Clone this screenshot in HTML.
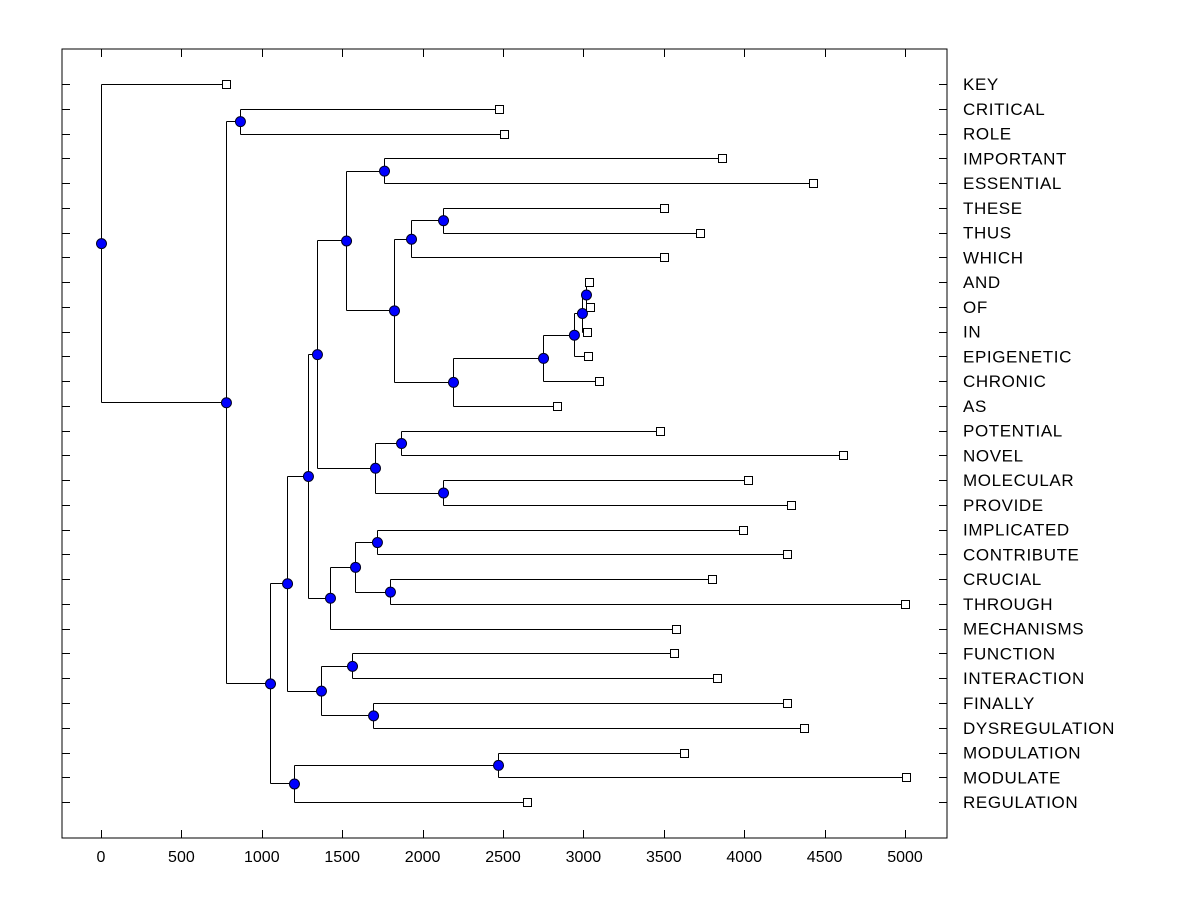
<!DOCTYPE html>
<html><head><meta charset="utf-8"><style>
body{margin:0;background:#fff}
svg text{font-family:"Liberation Sans",Arial,sans-serif;font-size:16px;fill:#000}
svg text.lab{font-size:17px;letter-spacing:0.6px}
</style></head><body>
<svg id="c" width="1200" height="900" xmlns="http://www.w3.org/2000/svg"></svg>
<script>
const leafNames=["KEY","CRITICAL","ROLE","IMPORTANT","ESSENTIAL","THESE","THUS","WHICH","AND","OF","IN","EPIGENETIC","CHRONIC","AS","POTENTIAL","NOVEL","MOLECULAR","PROVIDE","IMPLICATED","CONTRIBUTE","CRUCIAL","THROUGH","MECHANISMS","FUNCTION","INTERACTION","FINALLY","DYSREGULATION","MODULATION","MODULATE","REGULATION"];
const leafHeights=[777,2475,2506,3862,4428,3501,3725,3501,3035,3040,3020,3029,3097,2836,3476,4614,4024,4291,3993,4266,3800,5000,3576,3563,3831,4266,4372,3626,5006,2649];
const mergeLeft=[8,30,31,32,33,5,35,36,3,38,14,16,40,39,18,20,44,46,43,23,25,49,48,27,53,52,1,56,0];
const mergeRight=[9,10,11,12,13,6,7,34,4,37,15,17,41,42,19,21,45,22,47,24,26,50,51,28,29,54,2,55,57];
const mergeHeights=[3016,2991,2941,2749,2189,2127,1928,1822,1760,1524,1866,2127,1704,1343,1716,1797,1580,1424,1287,1561,1692,1368,1157,2469,1200,1051,864,777,0];
const xTicks=[0,500,1000,1500,2000,2500,3000,3500,4000,4500,5000];

const svg=document.getElementById('c');
const NS='http://www.w3.org/2000/svg';
const L=62,R=947,T=49,B=838;
const X=v=>101+v*0.1608;
const Y=i=>84+i*24.76;
function mk(tag,attrs){const e=document.createElementNS(NS,tag);for(const k in attrs)e.setAttribute(k,attrs[k]);svg.appendChild(e);return e;}

let e=mk('rect',{x:L,y:T,width:R-L,height:B-T,fill:'none',stroke:'#000','stroke-width':1});



xTicks.forEach(t=>{
  const x=Math.round(X(t))+0.5;
  let a=mk('line',{x1:x,x2:x,y1:B,y2:B-8,stroke:'#000'});
  
  
  let b=mk('line',{x1:x,x2:x,y1:T,y2:T+8,stroke:'#000'});
  
  
  let tx=mk('text',{x:X(t),y:862,'text-anchor':'middle'});tx.textContent=t;
  
  
});

leafNames.forEach((n,i)=>{
  const y=Math.round(Y(i))+0.5;
  let a=mk('line',{x1:L,x2:L+8,y1:y,y2:y,stroke:'#000'});
  
  
  let b=mk('line',{x1:R-8,x2:R,y1:y,y2:y,stroke:'#000'});
  
  
  let t=mk('text',{x:963,y:Y(i)+6,'class':'lab'});t.textContent=n;
  
  
});

const nx=[],ny=[];
leafHeights.forEach((h,i)=>{nx[i]=X(h);ny[i]=Y(i);});
const nL=leafNames.length;
mergeHeights.forEach((h,k)=>{
  const id=nL+k,a=mergeLeft[k],b=mergeRight[k];
  nx[id]=X(h);ny[id]=(ny[a]+ny[b])/2;
});
mergeHeights.forEach((h,k)=>{
  const id=nL+k,a=mergeLeft[k],b=mergeRight[k];
  const x=Math.round(nx[id])+0.5;
  let v=mk('line',{x1:x,x2:x,y1:Math.round(ny[a])+0.5,y2:Math.round(ny[b])+0.5,stroke:'#000'});
  
  
  [a,b].forEach(c=>{
    const y=Math.round(ny[c])+0.5;
    let hl=mk('line',{x1:x,x2:Math.round(nx[c])+0.5,y1:y,y2:y,stroke:'#000'});
    
    
  });
});
leafHeights.forEach((h,i)=>{
  let r=mk('rect',{x:Math.round(nx[i])-3.5,y:Math.round(ny[i])-3.5,width:8,height:8,fill:'#fff',stroke:'#000'});
  
  
});
mergeHeights.forEach((h,k)=>{
  const id=nL+k;
  let c=mk('circle',{cx:nx[id]+0.5,cy:ny[id]+0.5,r:5,fill:'#0000ff',stroke:'#000022','stroke-width':1});
  
  
});
</script>
</body></html>
